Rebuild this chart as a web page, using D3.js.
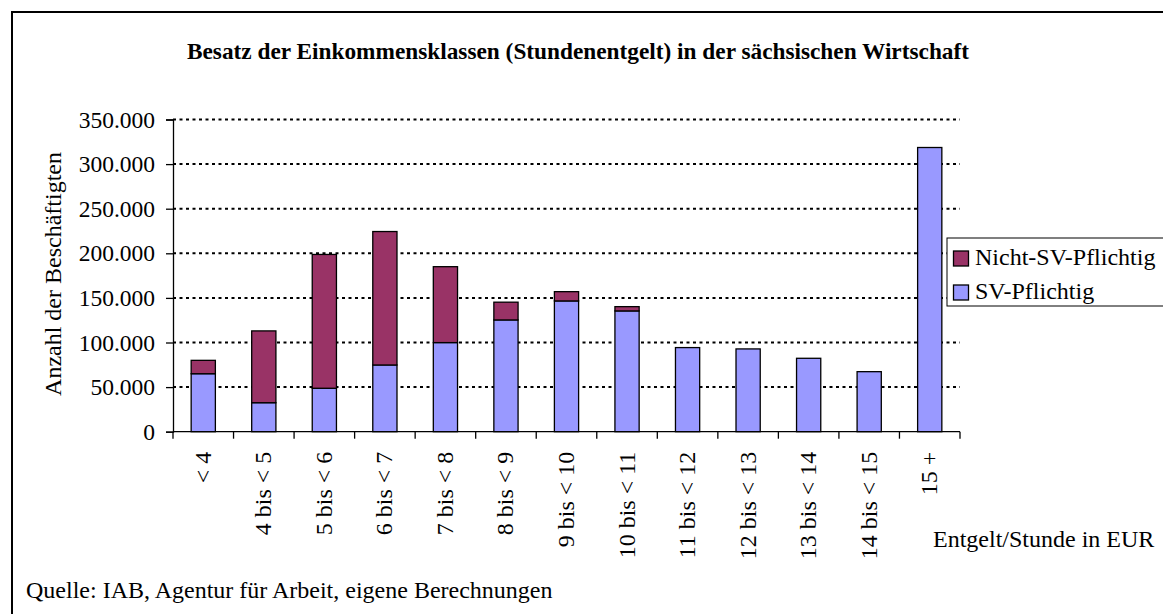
<!DOCTYPE html>
<html><head><meta charset="utf-8">
<script src="https://cdn.jsdelivr.net/npm/d3@7"></script>
<style>body{margin:0;background:#fff}svg{display:block;font-family:"Liberation Serif","Times New Roman",serif}</style>
</head><body>
<svg id="c" width="1163" height="614"></svg>
<script>
const categories = ["< 4","4 bis < 5","5 bis < 6","6 bis < 7","7 bis < 8","8 bis < 9","9 bis < 10","10 bis < 11","11 bis < 12","12 bis < 13","13 bis < 14","14 bis < 15","15 +"];
const svPflichtig = [65000,32500,48700,74800,99900,125300,146600,135400,94300,92800,82300,67300,318600];
const nichtSvPflichtig = [15000,80500,150000,149600,85100,19900,10400,4800,0,0,0,0,0];
const yTicks = [0,50000,100000,150000,200000,250000,300000,350000];
const seriesNames = ["SV-Pflichtig","Nicht-SV-Pflichtig"];
const colors = {"SV-Pflichtig":"#9999FF","Nicht-SV-Pflichtig":"#993366"};

const svg = d3.select("#c");
const L = 173, R = 960, T = 119.5, B = 431.7;
const FS = 24;

svg.append("rect").attr("x",12).attr("y",12).attr("width",1200).attr("height",700)
  .attr("fill","none").attr("stroke","#000").attr("stroke-width",2);

const x = d3.scaleBand().domain(categories).range([L,R]).paddingInner(0.6).paddingOuter(0.3);
const y = d3.scaleLinear().domain([0,350000]).range([B,T]);

// gridlines
svg.append("g").selectAll("line").data(yTicks.filter(d=>d>0)).join("line")
  .attr("x1",L).attr("x2",R).attr("y1",d=>y(d)).attr("y2",d=>y(d))
  .attr("stroke","#000").attr("stroke-width",2).attr("stroke-dasharray","3,3.5");

const data = categories.map((c,i)=>({cat:c,"SV-Pflichtig":svPflichtig[i],"Nicht-SV-Pflichtig":nichtSvPflichtig[i]}));
const stack = d3.stack().keys(seriesNames)(data);
svg.append("g").selectAll("g").data(stack).join("g")
  .attr("fill",d=>colors[d.key])
  .selectAll("rect").data(d=>d.filter(p=>p[1]-p[0]>0)).join("rect")
  .attr("x",d=>x(d.data.cat)).attr("width",x.bandwidth())
  .attr("y",d=>y(d[1])).attr("height",d=>y(d[0])-y(d[1]))
  .attr("stroke","#000").attr("stroke-width",1.3);

// y axis
const ya = svg.append("g").attr("transform",`translate(${L},0)`)
  .call(d3.axisLeft(y).tickValues(yTicks).tickSize(7).tickPadding(11)
    .tickFormat(d=>d===0?"0":d3.format(",")(d).replace(/,/g,".")));
ya.selectAll("text").attr("font-size",23.5).attr("font-family","Liberation Serif").attr("fill","#000");
ya.select(".domain").attr("stroke","#000").attr("stroke-width",1.3);
ya.selectAll(".tick line").attr("stroke","#000").attr("stroke-width",1.3);

// x axis
const xg = svg.append("g");
xg.append("line").attr("x1",L).attr("x2",R).attr("y1",B).attr("y2",B).attr("stroke","#000").attr("stroke-width",1.3);
const bounds = d3.range(categories.length+1).map(i=>L+i*(R-L)/categories.length);
xg.selectAll("line.tk").data(bounds).join("line").attr("class","tk")
  .attr("x1",d=>d).attr("x2",d=>d).attr("y1",B).attr("y2",B+7).attr("stroke","#000").attr("stroke-width",1.3);
xg.selectAll("text").data(categories).join("text")
  .attr("transform",d=>`translate(${x(d)+x.bandwidth()/2+7.5},${B+20}) rotate(-90)`)
  .attr("text-anchor","end").attr("font-size",FS).text(d=>d);

// titles
svg.append("text").attr("x",578).attr("y",59).attr("text-anchor","middle")
  .attr("font-weight","bold").attr("font-size",23.3).text("Besatz der Einkommensklassen (Stundenentgelt) in der sächsischen Wirtschaft");
svg.append("text").attr("transform","translate(61,274) rotate(-90)").attr("text-anchor","middle")
  .attr("font-size",FS).text("Anzahl der Beschäftigten");
svg.append("text").attr("x",933).attr("y",547).attr("font-size",FS).text("Entgelt/Stunde in EUR");
svg.append("text").attr("x",26).attr("y",598).attr("font-size",FS).text("Quelle: IAB, Agentur für Arbeit, eigene Berechnungen");

// legend
const lg = svg.append("g");
lg.append("rect").attr("x",947).attr("y",238).attr("width",260).attr("height",68)
  .attr("fill","#fff").attr("stroke","#000").attr("stroke-width",1);
["Nicht-SV-Pflichtig","SV-Pflichtig"].forEach((k,i)=>{
  lg.append("rect").attr("x",953.5).attr("y",251+i*34).attr("width",15).attr("height",15)
    .attr("fill",colors[k]).attr("stroke","#000").attr("stroke-width",1.3);
  lg.append("text").attr("x",975).attr("y",265+i*33.5).attr("font-size",FS).text(k);
});
</script>
</body></html>
